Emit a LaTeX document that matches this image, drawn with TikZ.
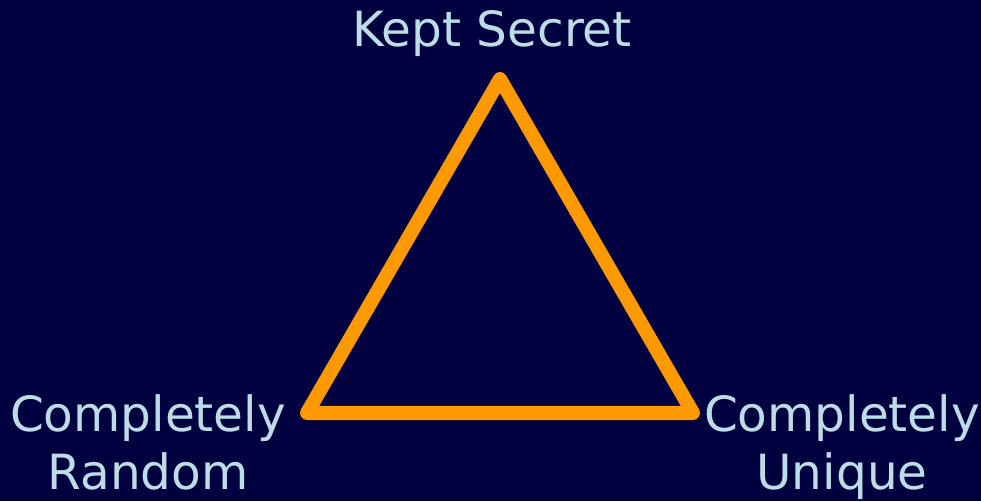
\documentclass[tikz,border=0pt]{standalone}
\usepackage{fontspec}
\setmainfont{DejaVu Sans}
\usepackage{tikz}
\usetikzlibrary{positioning}
\definecolor{slide-bg}{HTML}{000040}
\definecolor{slide-orange}{HTML}{FF9900}
\definecolor{slide-text}{HTML}{BCDDE6}
\tikzset{
  goal-edge/.style={draw=slide-orange, line width=10pt, line join=round, line cap=round},
  goal-label/.style={text=slide-text, align=center, inner sep=0pt, anchor=base,
    font=\fontsize{34.5}{41}\selectfont}
}

\begin{document}
\begin{tikzpicture}[x=0.025cm, y=-0.025cm]
  \fill[slide-bg] (0,0) rectangle (981,501);
  \useasboundingbox (0,0) rectangle (981,501);
  \coordinate (secret) at (500,79);
  \coordinate (random) at (307,413);
  \coordinate (unique) at (693,413);
  \draw[goal-edge] (secret) -- (random) -- (unique) -- cycle;
  \node[goal-label] (secret-label) at (492,46) {Kept Secret};
  \node[goal-label] (random-label) at (148,489) {Completely\\Random};
  \node[goal-label] (unique-label) at (842,489) {Completely\\Unique};
\end{tikzpicture}
\end{document}
